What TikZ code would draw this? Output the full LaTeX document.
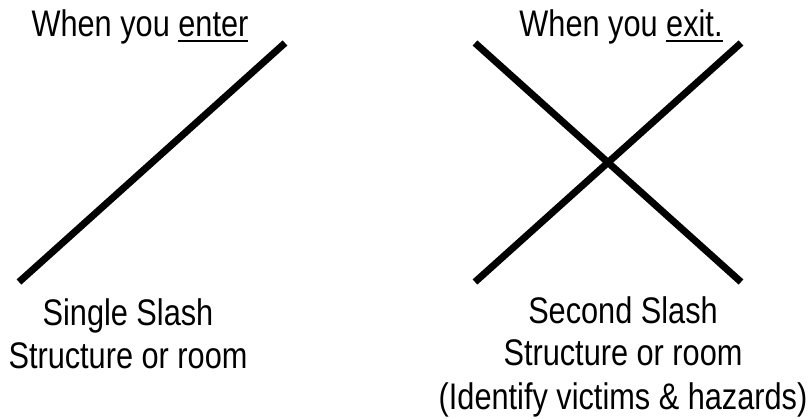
\documentclass[tikz,border=0pt]{standalone}
\usepackage{fontspec}
\setmainfont{Liberation Sans}[FakeStretch=0.83]
\usepackage{tikz}
\usetikzlibrary{calc}
\newcommand{\undl}[1]{\setbox0\hbox{#1}\rlap{\rule[-5.5pt]{\wd0}{2.6pt}}\box0}
\tikzset{
  slash/.style={line width=7pt},
  lbl/.style={anchor=base,align=center,inner sep=0pt,
    font=\fontsize{37}{43}\selectfont}
}

\begin{document}
\begin{tikzpicture}[x=1pt,y=-1pt]
\useasboundingbox (0,0) rectangle (808,419);
% entering: single slash
\coordinate (s1a) at (19,282);
\coordinate (s1b) at (285,43);
\draw[slash] (s1a) -- (s1b);
\node[lbl] (enter) at (140,37) {When you \undl{enter}};
\node[lbl] (single) at (128,368) {Single Slash\\Structure or room};
% exiting: second slash
\coordinate (x1a) at (475,43);
\coordinate (x1b) at (741,282);
\coordinate (x2a) at (475,282);
\coordinate (x2b) at (741,43);
\draw[slash] (x1a) -- (x1b);
\draw[slash] (x2a) -- (x2b);
\node[lbl] (exit) at (621,37) {When you \undl{exit.}};
\node[lbl] (second) at (623,409) {Second Slash\\Structure or room\\(Identify victims \& hazards)};
\end{tikzpicture}
\end{document}
